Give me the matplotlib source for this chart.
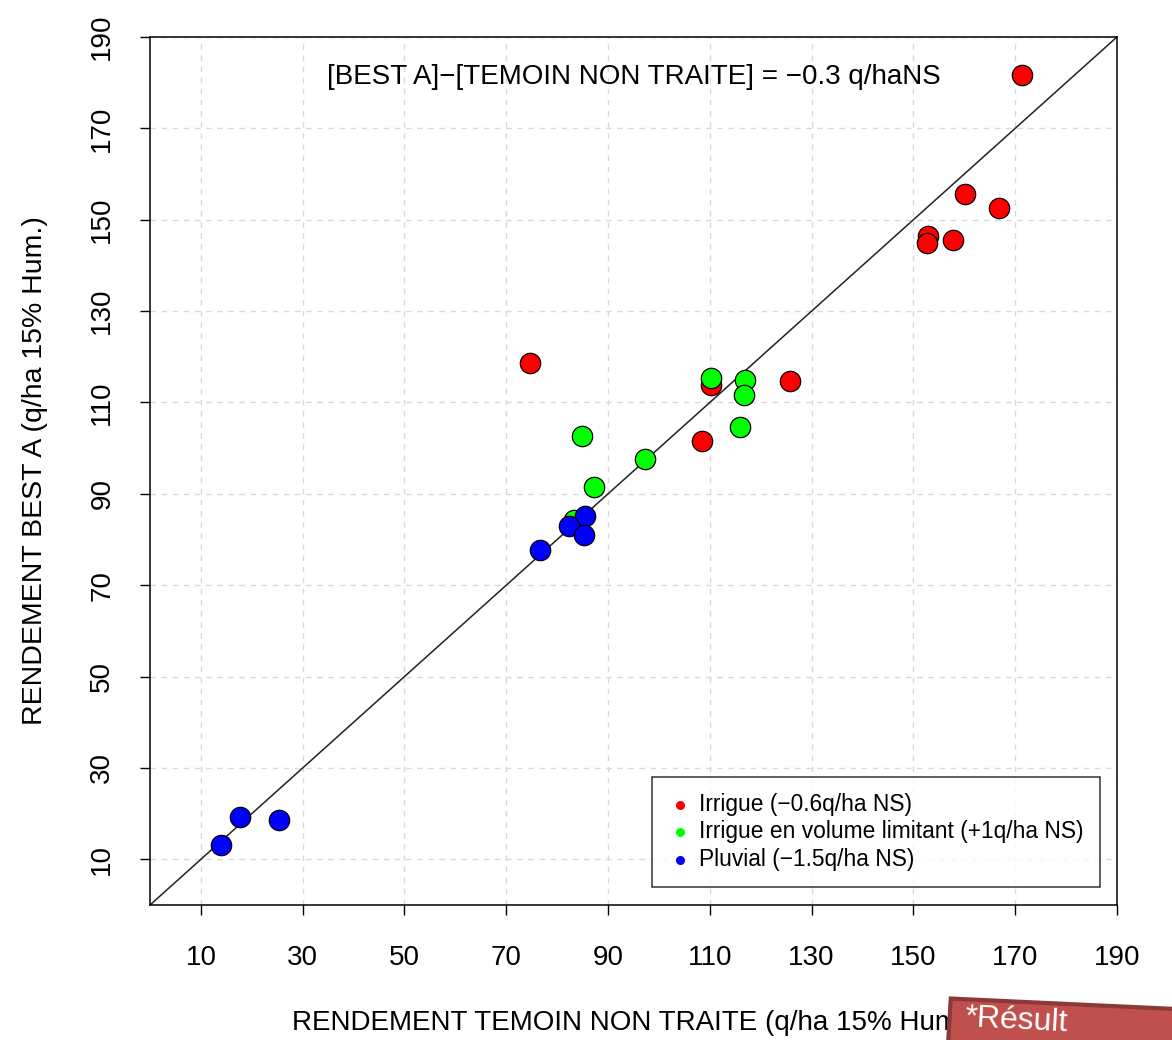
import matplotlib

matplotlib.use("Agg")

import matplotlib.pyplot as plt
from matplotlib.patches import Rectangle

plt.rcParams["font.family"] = ["Liberation Sans", "DejaVu Sans"]

# data
irrigue_x = [171.3, 160.1, 166.8, 152.8, 152.6, 157.7, 74.7, 110.3, 125.7, 108.4]
irrigue_y = [181.7, 155.6, 152.6, 146.5, 144.9, 145.6, 118.7, 113.8, 114.7, 101.6]

limitant_x = [110.3, 117.0, 116.8, 115.9, 84.8, 97.3, 87.3, 83.4]
limitant_y = [115.4, 114.9, 111.6, 104.6, 102.7, 97.6, 91.5, 84.3]

pluvial_x = [85.5, 82.4, 85.3, 76.7, 17.7, 25.4, 14.0]
pluvial_y = [85.2, 83.0, 81.0, 77.7, 19.3, 18.6, 13.1]

ticks = list(range(10, 191, 20))
series = [
    ("Irrigue (\u22120.6q/ha NS)", irrigue_x, irrigue_y, "#ff0000"),
    ("Irrigue en volume limitant (+1q/ha NS)", limitant_x, limitant_y, "#00ff00"),
    ("Pluvial (\u22121.5q/ha NS)", pluvial_x, pluvial_y, "#0000ff"),
]

fig = plt.figure(figsize=(11.72, 10.4), dpi=100)
ax = fig.add_axes([0.128, 0.1298, 0.825, 0.8346])

ax.plot([0, 190], [0, 190], color="#222222", linewidth=1.1, zorder=2)

for label, xs, ys, color in series:
    ax.scatter(xs, ys, s=215, c=color, edgecolors="black", linewidths=0.9, zorder=3)
    ax.scatter([], [], s=30, c=color, label=label)

ax.set_xlim(0, 190)
ax.set_ylim(0, 190)
ax.set_xticks(ticks)
ax.set_yticks(ticks)
ax.grid(True, color="#d9d9d9", linestyle=(0, (4, 4)), linewidth=1.0)
ax.set_axisbelow(True)
ax.tick_params(direction="out", length=7, width=1, labelsize=20)
ax.tick_params(axis="x", pad=22)
ax.tick_params(axis="y", pad=18)
for lbl in ax.get_yticklabels():
    lbl.set_rotation(90)
    lbl.set_va("center")
for spine in ax.spines.values():
    spine.set_linewidth(1.1)

ax.set_xlabel("RENDEMENT TEMOIN NON TRAITE (q/ha 15% Hum.)", fontsize=20, labelpad=28)
ax.set_ylabel("RENDEMENT BEST A (q/ha 15% Hum.)", fontsize=20.5, labelpad=30)

ax.text(0.5, 0.954, "[BEST A]\u2212[TEMOIN NON TRAITE] = \u22120.3 q/haNS",
        transform=ax.transAxes, ha="center", va="center", fontsize=20)

leg = ax.legend(loc="lower right", bbox_to_anchor=(0.982, 0.021), fontsize=16.4,
                frameon=True, fancybox=False, handletextpad=0.35, handlelength=1.0,
                borderpad=0.7, labelspacing=0.2, borderaxespad=0)
leg.get_frame().set_edgecolor("black")
leg.get_frame().set_linewidth(1.1)

# red annotation tab in the bottom-right corner
tab = Rectangle((0.806, -0.06), 0.35, 0.1, angle=-3, transform=fig.transFigure,
                facecolor="#c0504d", edgecolor="#8c3836", linewidth=3, zorder=10)
fig.patches.append(tab)
fig.text(0.823, 0.002, "*R\u00e9sult", color="white", fontsize=23,
         rotation=-3, ha="left", va="bottom", zorder=11)

fig.savefig("out.png", dpi=100)
